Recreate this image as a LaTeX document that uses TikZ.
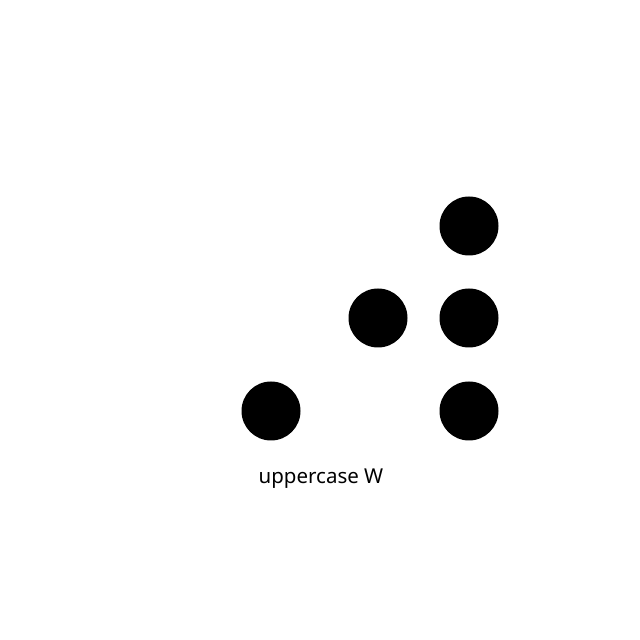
\documentclass[tikz,border=0pt]{standalone}
\usepackage{fontspec}
\setmainfont{Noto Sans}
\begin{document}
\begin{tikzpicture}[x=1pt,y=1pt,dot/.style={circle,fill=black,minimum size=59pt,inner sep=0pt}]
\useasboundingbox (0,0) rectangle (640,640);
\node[dot] (d1) at (469,414) {};
\node[dot] (d2) at (378,322) {};
\node[dot] (d3) at (469,322) {};
\node[dot] (d4) at (271,229) {};
\node[dot] (d5) at (469,229) {};
\node[font=\fontsize{20.5}{24}\selectfont] (lbl) at (321,161) {uppercase W};
\end{tikzpicture}
\end{document}
